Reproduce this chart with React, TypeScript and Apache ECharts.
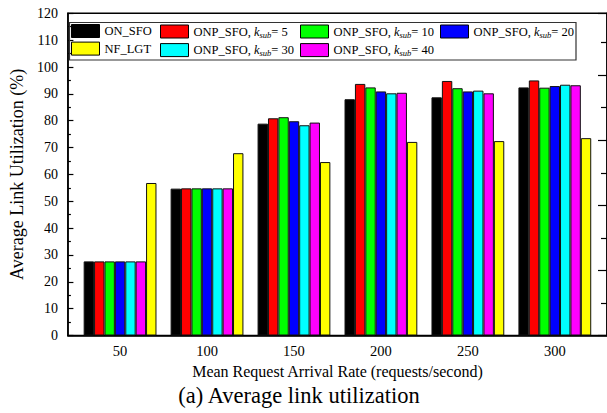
import React, { useEffect, useRef } from 'react';
import * as echarts from 'echarts';

// Mean request arrival rates (requests/second)
const rates = [50, 100, 150, 200, 250, 300];

// Average link utilization (%) per algorithm
const onSfo = [27.6, 54.7, 78.9, 88.0, 88.7, 92.4];
const onpK5 = [27.6, 54.8, 80.9, 93.7, 94.8, 95.0];
const onpK10 = [27.6, 54.8, 81.3, 92.4, 92.1, 92.3];
const onpK20 = [27.6, 54.8, 79.8, 90.9, 90.9, 92.9];
const onpK30 = [27.6, 54.8, 78.3, 90.2, 91.2, 93.4];
const onpK40 = [27.6, 54.8, 79.3, 90.4, 90.2, 93.2];
const nfLgt = [56.8, 67.9, 64.6, 72.1, 72.4, 73.5];

const seriesNames = [
  'ON_SFO',
  'ONP_SFO, k=5',
  'ONP_SFO, k=10',
  'ONP_SFO, k=20',
  'ONP_SFO, k=30',
  'ONP_SFO, k=40',
  'NF_LGT',
];
const seriesValues = [onSfo, onpK5, onpK10, onpK20, onpK30, onpK40, nfLgt];
const seriesColors = ['#000000', '#ff0000', '#00ff00', '#0000ff', '#00ffff', '#ff00ff', '#ffff00'];

// Legend labels with italic k and subscript "sub"
const legendLabels: Record<string, string> = {
  'ON_SFO': 'ON_SFO',
  'NF_LGT': 'NF_LGT',
  'ONP_SFO, k=5': 'ONP_SFO, {k|k}{s|sub}= 5',
  'ONP_SFO, k=10': 'ONP_SFO, {k|k}{s|sub}= 10',
  'ONP_SFO, k=20': 'ONP_SFO, {k|k}{s|sub}= 20',
  'ONP_SFO, k=30': 'ONP_SFO, {k|k}{s|sub}= 30',
  'ONP_SFO, k=40': 'ONP_SFO, {k|k}{s|sub}= 40',
};

const legendColumns = [
  ['ON_SFO', 'NF_LGT'],
  ['ONP_SFO, k=5', 'ONP_SFO, k=30'],
  ['ONP_SFO, k=10', 'ONP_SFO, k=40'],
  ['ONP_SFO, k=20'],
];
const legendLefts = [71, 160, 300, 440];

const FONT = '"Liberation Serif", "Times New Roman", Times, serif';

export default function App() {
  const ref = useRef<HTMLDivElement>(null);

  useEffect(() => {
    if (!ref.current) return;
    const chart = echarts.init(ref.current, undefined, { renderer: 'svg' });

    const legendText = {
      fontFamily: FONT,
      fontSize: 12.5,
      color: '#000',
      lineHeight: 13,
      rich: {
        k: { fontFamily: FONT, fontSize: 12.5, fontStyle: 'italic', color: '#000', lineHeight: 13 },
        // subscript: top padding pushes the glyphs below the baseline
        s: {
          fontFamily: FONT,
          fontSize: 8.5,
          fontStyle: 'italic',
          color: '#000',
          lineHeight: 5,
          padding: [6, 0, 0, 0],
        },
      },
    };

    const option: any = {
      animation: false,
      backgroundColor: '#fff',
      textStyle: { fontFamily: FONT },
      grid: {
        left: 54,
        top: 13.3,
        width: 556.5,
        height: 322.2,
        show: true,
        borderColor: '#000',
        borderWidth: 1.5,
        backgroundColor: 'transparent',
      },
      legend: legendColumns.map((col, i) => ({
        data: col,
        orient: 'vertical',
        left: legendLefts[i],
        top: 24,
        padding: 0,
        itemWidth: 28,
        itemHeight: 13,
        itemGap: 3.6,
        icon: 'rect',
        itemStyle: { borderColor: '#000', borderWidth: 1 },
        selectedMode: false,
        formatter: (name: string) => legendLabels[name],
        textStyle: legendText,
      })),
      xAxis: {
        type: 'value',
        min: 20,
        max: 330,
        name: 'Mean Request Arrival Rate (requests/second)',
        nameLocation: 'middle',
        nameGap: 27,
        nameTextStyle: { fontFamily: FONT, fontSize: 16, color: '#000' },
        axisLine: { show: true, lineStyle: { color: '#000', width: 1.5 } },
        axisTick: { show: false },
        splitLine: { show: false },
        axisLabel: {
          customValues: rates,
          fontFamily: FONT,
          fontSize: 14.5,
          color: '#000',
          margin: 8,
        },
      },
      yAxis: [
        {
          type: 'value',
          min: 0,
          max: 120,
          interval: 10,
          name: 'Average Link Utilization (%)',
          nameLocation: 'middle',
          nameGap: 27,
          nameTextStyle: { fontFamily: FONT, fontSize: 18, color: '#000' },
          axisLine: { show: true, lineStyle: { color: '#000', width: 1.5 } },
          axisTick: { show: true, inside: true, length: 5.5, lineStyle: { color: '#000', width: 1.2 } },
          minorTick: { show: true, splitNumber: 2, length: 3, lineStyle: { color: '#000', width: 1.2 } },
          splitLine: { show: false },
          axisLabel: { fontFamily: FONT, fontSize: 14, color: '#000', margin: 10 },
        },
        {
          type: 'value',
          position: 'right',
          min: 0,
          max: 4.95,
          interval: 1,
          axisLine: { show: true, lineStyle: { color: '#000', width: 1.5 } },
          axisTick: { show: true, inside: true, length: 9, lineStyle: { color: '#000', width: 1.2 } },
          minorTick: { show: true, splitNumber: 2, length: 6, lineStyle: { color: '#000', width: 1.2 } },
          splitLine: { show: false },
          axisLabel: { show: false },
        },
      ],
      series: seriesNames.map((name, si) => ({
        name,
        type: 'bar',
        xAxisIndex: 0,
        yAxisIndex: 0,
        barWidth: 10.4,
        barGap: '0%',
        data: rates.map((r, i) => [r, seriesValues[si][i]]),
        itemStyle: { color: seriesColors[si], borderColor: '#111', borderWidth: 1 },
      })),
      graphic: [
        {
          type: 'rect',
          shape: { x: 69.5, y: 22.5, width: 506.5, height: 37.5 },
          style: { fill: 'none', stroke: '#333', lineWidth: 1.2 },
          z: 100,
        },
        {
          type: 'text',
          x: 299,
          y: 395,
          style: {
            text: '(a) Average link utilization',
            fontFamily: FONT,
            fontSize: 22.5,
            fill: '#000',
            textAlign: 'center',
            textVerticalAlign: 'middle',
          },
        },
      ],
    };

    chart.setOption(option);
    return () => chart.dispose();
  }, []);

  return (
    <div
      ref={ref}
      style={{ position: 'absolute', left: 0, top: 0, width: 607, height: 413, background: '#fff' }}
    />
  );
}
